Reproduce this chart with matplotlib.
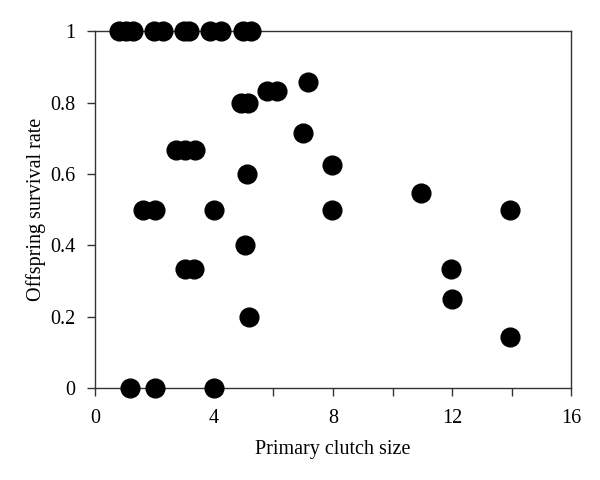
import numpy as np
import matplotlib
matplotlib.use("Agg")
import matplotlib.pyplot as plt

plt.rcParams['font.family'] = ['Liberation Serif', 'DejaVu Serif']

# clutch size (slightly jittered in the original) and survival rate
clutch = [0.81, 1.05, 1.28, 1.98, 2.29, 3.0, 3.16, 3.87, 4.24, 4.97, 5.24,
          4.9, 5.13, 5.8, 6.12, 7.16, 6.99,
          2.72, 3.03, 3.36, 5.1,
          1.61, 2.02, 4.0, 7.97, 13.95,
          5.04, 3.02, 3.33, 5.18,
          1.18, 2.02, 4.0,
          7.97, 10.96, 11.97, 12.0, 13.95]
survival = [1, 1, 1, 1, 1, 1, 1, 1, 1, 1, 1,
            0.8, 0.8, 0.833, 0.833, 0.857, 0.714,
            0.667, 0.667, 0.667, 0.6,
            0.5, 0.5, 0.5, 0.5, 0.5,
            0.4, 0.333, 0.333, 0.2,
            0, 0, 0,
            0.625, 0.545, 0.333, 0.25, 0.143]

fig = plt.figure(figsize=(6, 4.8), dpi=100)
ax = fig.add_axes([0.158, 0.192, 0.794, 0.743])

ax.plot(clutch, survival, 'o', color='black', markersize=13.5, clip_on=False, zorder=3)

ax.set_xlim(0, 16)
ax.set_ylim(0, 1)
ax.set_xticks([0, 2, 4, 6, 8, 10, 12, 14, 16])
ax.set_xticklabels(['0', '', '4', '', '8', '', '12', '', '16'])
ax.set_yticks([0, 0.2, 0.4, 0.6, 0.8, 1])
ax.set_yticklabels(['0', '0.2', '0.4', '0.6', '0.8', '1'])
ax.tick_params(direction='out', length=6, width=1, labelsize=14.5, color='#333333')
ax.tick_params(axis='x', pad=9)
ax.tick_params(axis='y', pad=8)
for s in ax.spines.values():
    s.set_linewidth(1)
    s.set_color('#333333')

ax.set_xlabel('Primary clutch size', fontsize=14.5, labelpad=9)
ax.set_ylabel('Offspring survival rate', fontsize=14.5, labelpad=3)

fig.savefig('out.png', dpi=100)
